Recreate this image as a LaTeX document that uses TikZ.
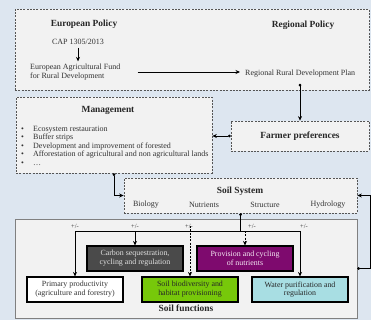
\documentclass[tikz,border=0pt]{standalone}
\usepackage{fontspec}
\setmainfont{Liberation Serif}
\usetikzlibrary{arrows.meta}
\definecolor{bgblue}{HTML}{DDE6F0}
\definecolor{boxgray}{HTML}{F2F2F2}
\definecolor{dashgray}{HTML}{555555}
\definecolor{carbonc}{HTML}{4A4A4A}
\definecolor{purp}{HTML}{7E0A6E}
\definecolor{grn}{HTML}{77C80A}
\definecolor{cyanb}{HTML}{A8DEE3}
\definecolor{txtc}{HTML}{333333}
\begin{document}
\begin{tikzpicture}[x=1pt,y=-1pt,
  dbox/.style={draw=dashgray, dash pattern=on 2pt off 1.3pt, line width=0.7pt, fill=boxgray, inner sep=0pt},
  fbox/.style={draw=black, line width=1.1pt, minimum width=96pt, minimum height=25pt, inner sep=0pt, align=center, font=\fontsize{7.9}{8.8}\selectfont},
  hd/.style={font=\fontsize{9.4}{11}\selectfont\bfseries, inner sep=0pt, text=black!85},
  tx/.style={font=\fontsize{8}{9.6}\selectfont, inner sep=0pt, text=txtc},
  pm/.style={font=\fontsize{6.5}{7}\selectfont, inner sep=0pt, text=txtc},
  arr/.style={-{Stealth[length=4.5pt,width=4pt]}, line width=0.8pt},
  darr/.style={{Circle[length=2.6pt]}-{Stealth[length=4.5pt,width=4pt]}, line width=0.8pt},
]
\useasboundingbox (0,0) rectangle (371,320);
\fill[bgblue] (0,0) rectangle (371,320);

% policy box
\node[dbox, minimum width=354pt, minimum height=81pt] (pol) at (192,49.5) {};
\node[hd] (ep) at (84,24) {European Policy};
\node[hd] (rp) at (303,25) {Regional Policy};
\node[tx] (cap) at (78,42) {CAP 1305/2013};
\node[tx, align=left, anchor=west] (eaf) at (30,72) {European Agricultural Fund\\for Rural Development};
\node[tx, anchor=west] (rrdp) at (245,74) {Regional Rural Development Plan};
\draw[arr, shorten <=3pt, shorten >=2pt] (cap.south) -- (cap.south |- eaf.north);
\draw[arr, shorten <=17pt, shorten >=5pt] (eaf.east) -- (eaf.east -| rrdp.west);

% management
\node[dbox, minimum width=196pt, minimum height=76pt] (mg) at (114,135) {};
\node[hd] (mgt) at (108,110) {Management};
\node[tx, anchor=north west, align=left, font=\fontsize{8}{8.4}\selectfont] (ml) at (21,126)
 {\makebox[12pt][l]{•}Ecosystem restauration\\
  \makebox[12pt][l]{•}Buffer strips\\
  \makebox[12pt][l]{•}Development and improvement of forested\\
  \makebox[12pt][l]{•}Afforestation of agricultural and non agricultural lands\\
  \makebox[12pt][l]{•}\dots};

% farmer preferences
\node[dbox, minimum width=138pt, minimum height=30pt] (fp) at (300,136) {};
\node[hd] (fpt) at (300,136) {Farmer preferences};

% soil system
\node[dbox, minimum width=233pt, minimum height=35pt] (ss) at (240.5,195.5) {};
\node[hd] (sst) at (240,191.5) {Soil System};
\node[tx] (bio) at (146,205) {Biology};
\node[tx] (nut) at (204,205) {Nutrients};
\node[tx] (str) at (265,205) {Structure};
\node[tx] (hyd) at (328,205) {Hydrology};

% soil functions
\node[draw=black!50, line width=0.8pt, fill=boxgray, minimum width=342pt, minimum height=99pt, inner sep=0pt] (sf) at (186,268.5) {};
\node[hd] (sft) at (186,308.5) {Soil functions};
\node[fbox, fill=carbonc, text=black!12] (cs) at (135,258.5) {Carbon sequestration,\\cycling and regulation};
\node[fbox, fill=purp, text=white!92!purp] (pn) at (245,258.5) {Provision and cycling\\of nutrients};
\node[fbox, fill=white, text=txtc] (pp) at (75,289.5) {Primary productivity\\(agriculture and forestry)};
\node[fbox, fill=grn, text=black!85] (bd) at (190,289.5) {Soil biodiversity and\\habitat provisioning};
\node[fbox, fill=cyanb, text=black!85] (wp) at (300,289.5) {Water purification and\\regulation};

% connectors
\draw[darr] ([yshift=-6pt]rrdp.south -| fp.north) -- (fp.north);
\draw[{Stealth[length=4.5pt,width=4pt]}-{Circle[length=2.6pt]}, line width=0.8pt] (mg.east |- fp.west) -- (fp.west);
\draw[darr] (mg.south) |- (ss.west);
\draw[darr] (sf.east) -- ++(13,0) |- (ss.east);

\coordinate (j) at (240.5,231);
\draw[{Circle[length=2.6pt]}-, line width=0.8pt] (ss.south) -- (j);
\draw[line width=0.8pt] (pp.north |- j) -- (wp.north |- j);
\draw[arr] (pp.north |- j) -- (pp.north);
\draw[arr] (cs.north |- j) -- (cs.north);
\draw[arr] (wp.north |- j) -- (wp.north);
\draw[arr, dash pattern=on 2pt off 1.3pt] ([yshift=5pt]bd.north |- j) -- (bd.north);
\draw[arr, dash pattern=on 2pt off 1.3pt] (pn.north |- j) -- (pn.north);

\node[pm] (l1) at (75,226) {+/-};
\node[pm] (l2) at (135,226) {+/-};
\node[pm] (l3) at (189,226) {+/-};
\node[pm] (l4) at (252,226) {+/-};
\node[pm] (l5) at (304,226) {+/-};
\end{tikzpicture}
\end{document}
